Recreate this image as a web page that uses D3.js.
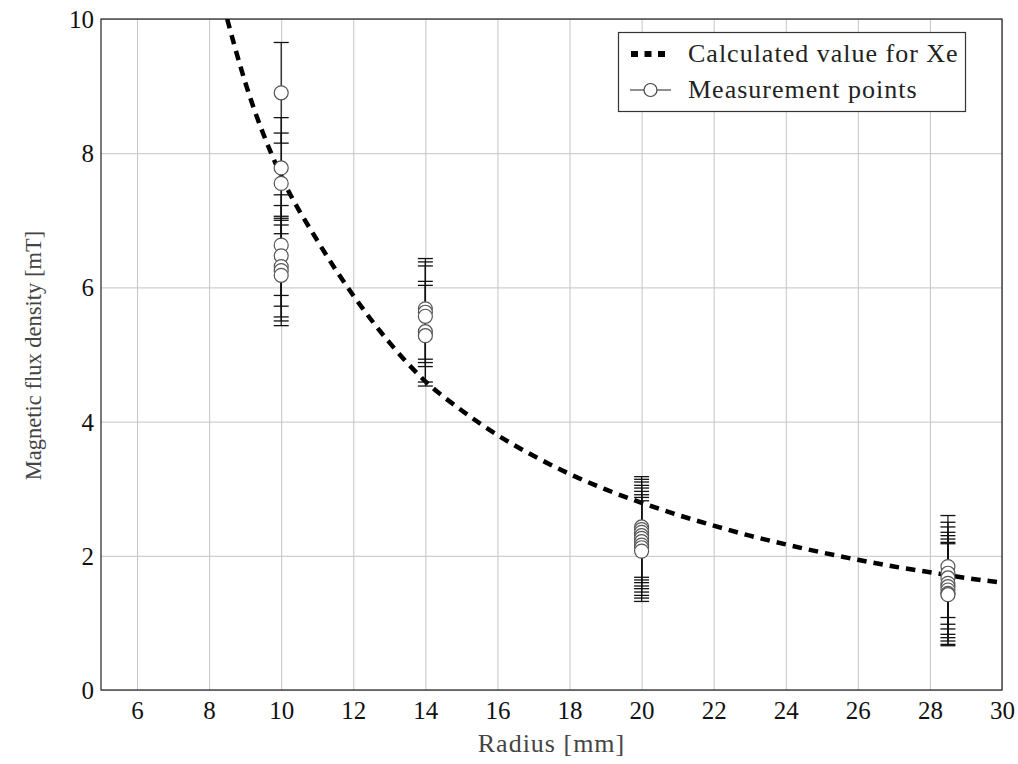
<!DOCTYPE html>
<html>
<head>
<meta charset="utf-8">
<script src="https://cdn.jsdelivr.net/npm/d3@7"></script>
<style>
  html, body { margin: 0; padding: 0; background: #fff; }
  svg { display: block; }
  text { font-family: "Liberation Serif", "DejaVu Serif", serif; }
</style>
</head>
<body>
<svg id="chart" width="1018" height="764"></svg>
<script>
// ---- data ----
const xTicks = [6, 8, 10, 12, 14, 16, 18, 20, 22, 24, 26, 28, 30];
const yTicks = [0, 2, 4, 6, 8, 10];

// calculated curve for Xe (radius mm, flux density mT)
const curveRadius = [8.5, 9, 10, 11, 12, 13, 14, 15, 16, 17, 18, 19, 20, 21, 22, 23, 24, 25, 26, 27, 28, 29, 30];
const curveFlux   = [10.0, 9.06, 7.66, 6.70, 5.88, 5.18, 4.60, 4.17, 3.80, 3.49, 3.22, 2.99, 2.79, 2.61, 2.45, 2.30, 2.17, 2.05, 1.94, 1.84, 1.755, 1.67, 1.60];

// measurement points
const measRadius = [10, 10, 10, 10, 10, 10, 10, 10,
                    14, 14, 14, 14, 14,
                    20, 20, 20, 20, 20, 20, 20, 20, 20,
                    28.5, 28.5, 28.5, 28.5, 28.5, 28.5, 28.5, 28.5];
const measFlux   = [8.90, 7.78, 7.55, 6.63, 6.47, 6.31, 6.25, 6.18,
                    5.68, 5.63, 5.57, 5.34, 5.28,
                    2.43, 2.39, 2.35, 2.30, 2.26, 2.21, 2.16, 2.12, 2.07,
                    1.84, 1.74, 1.67, 1.59, 1.54, 1.49, 1.44, 1.42];
const measError  = [0.75, 0.75, 0.75, 0.75, 0.75, 0.75, 0.75, 0.75,
                    0.75, 0.75, 0.75, 0.75, 0.75,
                    0.75, 0.75, 0.75, 0.75, 0.75, 0.75, 0.75, 0.75, 0.75,
                    0.76, 0.76, 0.76, 0.76, 0.76, 0.76, 0.76, 0.76];

const legendLabels = ["Calculated value for Xe", "Measurement points"];
const xTitle = "Radius [mm]";
const yTitle = "Magnetic flux density [mT]";

// ---- layout ----
const W = 1018, H = 764;
const margin = { left: 101, right: 16, top: 19, bottom: 74 };
const pw = W - margin.left - margin.right;
const ph = H - margin.top - margin.bottom;

const svg = d3.select("#chart");
const g = svg.append("g").attr("transform", `translate(${margin.left},${margin.top})`);

const x = d3.scaleLinear().domain([5, 30]).range([0, pw]);
const y = d3.scaleLinear().domain([0, 10]).range([ph, 0]);

svg.append("defs").append("clipPath").attr("id", "plotclip")
  .append("rect").attr("x", 0).attr("y", 0).attr("width", pw).attr("height", ph);

// grid
const gridX = d3.axisBottom(x).tickValues(xTicks).tickSize(-ph).tickFormat("");
const gridY = d3.axisLeft(y).tickValues(yTicks).tickSize(-pw).tickFormat("");
g.append("g").attr("class", "grid").attr("transform", `translate(0,${ph})`).call(gridX);
g.append("g").attr("class", "grid").call(gridY);
g.selectAll(".grid .domain").remove();
g.selectAll(".grid line").attr("stroke", "#c4c4c4").attr("stroke-width", 1);

// axes with tick labels
const xAxis = d3.axisBottom(x).tickValues(xTicks).tickSize(0).tickPadding(11).tickFormat(d3.format("d"));
const yAxis = d3.axisLeft(y).tickValues(yTicks).tickSize(0).tickPadding(7).tickFormat(d3.format("d"));
const gx = g.append("g").attr("transform", `translate(0,${ph})`).call(xAxis);
const gy = g.append("g").call(yAxis);
[gx, gy].forEach(a => {
  a.select(".domain").remove();
  a.selectAll("text").attr("font-size", 25).attr("fill", "#111");
});
gy.selectAll("text").attr("dy", "0.34em");

// frame
g.append("rect").attr("x", 0).attr("y", 0).attr("width", pw).attr("height", ph)
  .attr("fill", "none").attr("stroke", "#222").attr("stroke-width", 1.2);

// calculated curve
const curveData = curveRadius.map((r, i) => [r, curveFlux[i]]);
const line = d3.line().x(d => x(d[0])).y(d => y(d[1])).curve(d3.curveMonotoneX);
g.append("path").datum(curveData)
  .attr("clip-path", "url(#plotclip)")
  .attr("d", line)
  .attr("fill", "none").attr("stroke", "#000").attr("stroke-width", 4.5)
  .attr("stroke-dasharray", "9.5,7");

// error bars
const meas = measRadius.map((r, i) => ({ r, v: measFlux[i], e: measError[i] }));
const capHalf = 7.5;
const eb = g.append("g");
meas.forEach(d => {
  eb.append("line").attr("x1", x(d.r)).attr("x2", x(d.r))
    .attr("y1", y(d.v + d.e)).attr("y2", y(d.v - d.e))
    .attr("stroke", "#111").attr("stroke-width", 1.2);
  [d.v + d.e, d.v - d.e].forEach(v => {
    eb.append("line").attr("x1", x(d.r) - capHalf).attr("x2", x(d.r) + capHalf)
      .attr("y1", y(v)).attr("y2", y(v))
      .attr("stroke", "#111").attr("stroke-width", 1.3);
  });
});

// markers
g.append("g").selectAll("circle").data(meas).join("circle")
  .attr("cx", d => x(d.r)).attr("cy", d => y(d.v)).attr("r", 7)
  .attr("fill", "#fff").attr("stroke", "#555").attr("stroke-width", 1.2);

// axis titles
svg.append("text").attr("x", margin.left + pw / 2).attr("y", 752)
  .attr("text-anchor", "middle").attr("font-size", 26).attr("letter-spacing", "1px")
  .attr("fill", "#444").text(xTitle);
svg.append("text").attr("transform", `translate(41,${margin.top + ph / 2 + 1}) rotate(-90)`)
  .attr("text-anchor", "middle").attr("font-size", 22.5).attr("fill", "#444").text(yTitle);

// legend
const lg = svg.append("g");
lg.append("rect").attr("x", 618.5).attr("y", 32.5).attr("width", 347).attr("height", 79)
  .attr("fill", "#fff").attr("stroke", "#333").attr("stroke-width", 1.2);
lg.append("line").attr("x1", 631).attr("x2", 671).attr("y1", 54).attr("y2", 54)
  .attr("stroke", "#000").attr("stroke-width", 6).attr("stroke-dasharray", "7,6.5");
lg.append("line").attr("x1", 630).attr("x2", 671).attr("y1", 90).attr("y2", 90)
  .attr("stroke", "#222").attr("stroke-width", 1.2);
lg.append("circle").attr("cx", 650.5).attr("cy", 90).attr("r", 6.5)
  .attr("fill", "#fff").attr("stroke", "#444").attr("stroke-width", 1.2);
lg.selectAll("text.leg").data(legendLabels).join("text").attr("class", "leg")
  .attr("x", 688).attr("y", (d, i) => 62 + i * 36)
  .attr("font-size", 26).attr("letter-spacing", "1px").attr("fill", "#222").text(d => d);
</script>
</body>
</html>
